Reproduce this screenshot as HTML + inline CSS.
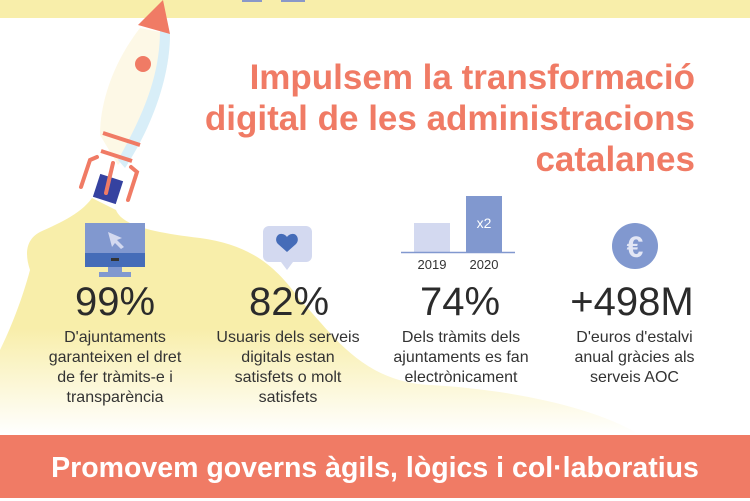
<!DOCTYPE html>
<html><head><meta charset="utf-8"><style>
body{margin:0;width:750px;height:498px;overflow:hidden;background:#fff;font-family:"Liberation Sans",sans-serif;position:relative}
.abs{position:absolute}
.title{right:55px;top:57px;text-align:right;color:#f07b65;font-weight:bold;font-size:35px;line-height:41px;white-space:nowrap}
.num{font-size:40px;color:#2b2b2b;text-align:center;width:200px;top:280px;line-height:44px}
.desc{font-size:16px;color:#333;text-align:center;width:168px;top:328px;line-height:20px}
.band{left:0;top:435px;width:750px;height:63px;background:#f07b65;color:#fff;font-weight:bold;font-size:28.5px;text-align:center;line-height:66px;white-space:nowrap}
</style></head><body>
<svg class="abs" style="left:0;top:0" width="750" height="498">
<defs><linearGradient id="g" x1="0" y1="0" x2="0" y2="1">
<stop offset="0" stop-color="#f8eeaa"/><stop offset="0.55" stop-color="#f8eeaa"/><stop offset="1" stop-color="#fff"/></linearGradient></defs>
<rect x="0" y="0" width="750" height="18" fill="#f8eeaa"/>
<rect x="242" y="0" width="20" height="2" fill="#8a98c8"/><rect x="281" y="0" width="24" height="2" fill="#8a98c8"/>
<path d="M92 198 C80 215 55 225 40 232 C25 240 25 255 30 270 C22 300 10 330 0 350 L0 435 L640 435 C600 410 520 390 430 385 C360 382 330 330 300 300 C275 265 250 245 200 238 C150 232 122 225 116 210 Z" fill="url(#g)"/>
<g>
<path d="M140 28 C115 60 100 100 100 135 L118 165 C150 130 170 80 170 34 Z" fill="#fdf8e6"/>
<path d="M160 30 L170 34 C170 80 150 130 125 168 L118 160 C140 120 160 80 160 30Z" fill="#d8eef8"/>
<path d="M138 25 L163 0 L170 34 Z" fill="#f07b65"/>
<circle cx="143" cy="64" r="8" fill="#f07b65"/>
<line x1="103" y1="133" x2="140" y2="145" stroke="#f07b65" stroke-width="4"/>
<line x1="101" y1="151" x2="132" y2="161" stroke="#f07b65" stroke-width="4"/>
<path d="M97 157 L90 160 L81 187" stroke="#f07b65" stroke-width="4" fill="none" stroke-linecap="round"/>
<path d="M131 167 L137 172 L128 200" stroke="#f07b65" stroke-width="4" fill="none" stroke-linecap="round"/>
<rect x="96" y="177" width="24" height="24" fill="#3542a0" transform="rotate(18 108 189)"/>
<line x1="113" y1="163" x2="106" y2="193" stroke="#f07b65" stroke-width="4" stroke-linecap="round"/>
</g>
<rect x="85" y="223" width="60" height="32" fill="#8198cf"/>
<rect x="85" y="253" width="60" height="14" fill="#456cb8"/>
<rect x="111" y="258" width="8" height="3" fill="#333"/>
<rect x="108" y="267" width="14" height="5" fill="#8198cf"/>
<rect x="99" y="272" width="32" height="5" fill="#8198cf"/>
<path d="M108 232 L122 238 L117 240 L124 247 L121 249 L115 243 L112 247 Z" fill="#d3d9f0"/>
<rect x="263" y="226" width="49" height="36" rx="6" fill="#d3d9f0"/>
<path d="M281 262 L287 270 L293 262 Z" fill="#d3d9f0"/>
<path d="M287 252 L278 244 C274 240 277 233 282 234 C285 234 287 237 287 237 C287 237 289 234 292 234 C297 233 300 240 296 244 Z" fill="#456cb8"/>
<rect x="414" y="223" width="36" height="29" fill="#d3d9f0"/>
<rect x="466" y="196" width="36" height="56" fill="#8198cf"/>
<line x1="401" y1="252.5" x2="515" y2="252.5" stroke="#8198cf" stroke-width="1.5"/>
<text x="484" y="228" fill="#fff" font-size="14" text-anchor="middle" font-family="Liberation Sans">x2</text>
<text x="432" y="269" fill="#333" font-size="13" text-anchor="middle" font-family="Liberation Sans">2019</text>
<text x="484" y="269" fill="#333" font-size="13" text-anchor="middle" font-family="Liberation Sans">2020</text>
<circle cx="635" cy="246" r="23" fill="#8198cf"/>
<text x="635" y="257" fill="#e2e6f5" font-size="30" font-weight="bold" text-anchor="middle" font-family="Liberation Sans">€</text>
</svg>
<div class="abs title">Impulsem la transformació<br>digital de les administracions<br>catalanes</div>
<div class="abs num" style="left:15px">99%</div>
<div class="abs num" style="left:189px">82%</div>
<div class="abs num" style="left:360px">74%</div>
<div class="abs num" style="left:532px">+498M</div>
<div class="abs desc" style="left:40px;width:150px">D'ajuntaments<br>garanteixen el dret<br>de fer tràmits-e i<br>transparència</div>
<div class="abs desc" style="left:208px;width:160px">Usuaris dels serveis<br>digitals estan<br>satisfets o molt<br>satisfets</div>
<div class="abs desc" style="left:376px;width:170px">Dels tràmits dels ajuntaments es fan electrònicament</div>
<div class="abs desc" style="left:562px;width:145px">D'euros d'estalvi anual gràcies als serveis AOC</div>
<div class="abs band">Promovem governs àgils, lògics i col·laboratius</div>
</body></html>
